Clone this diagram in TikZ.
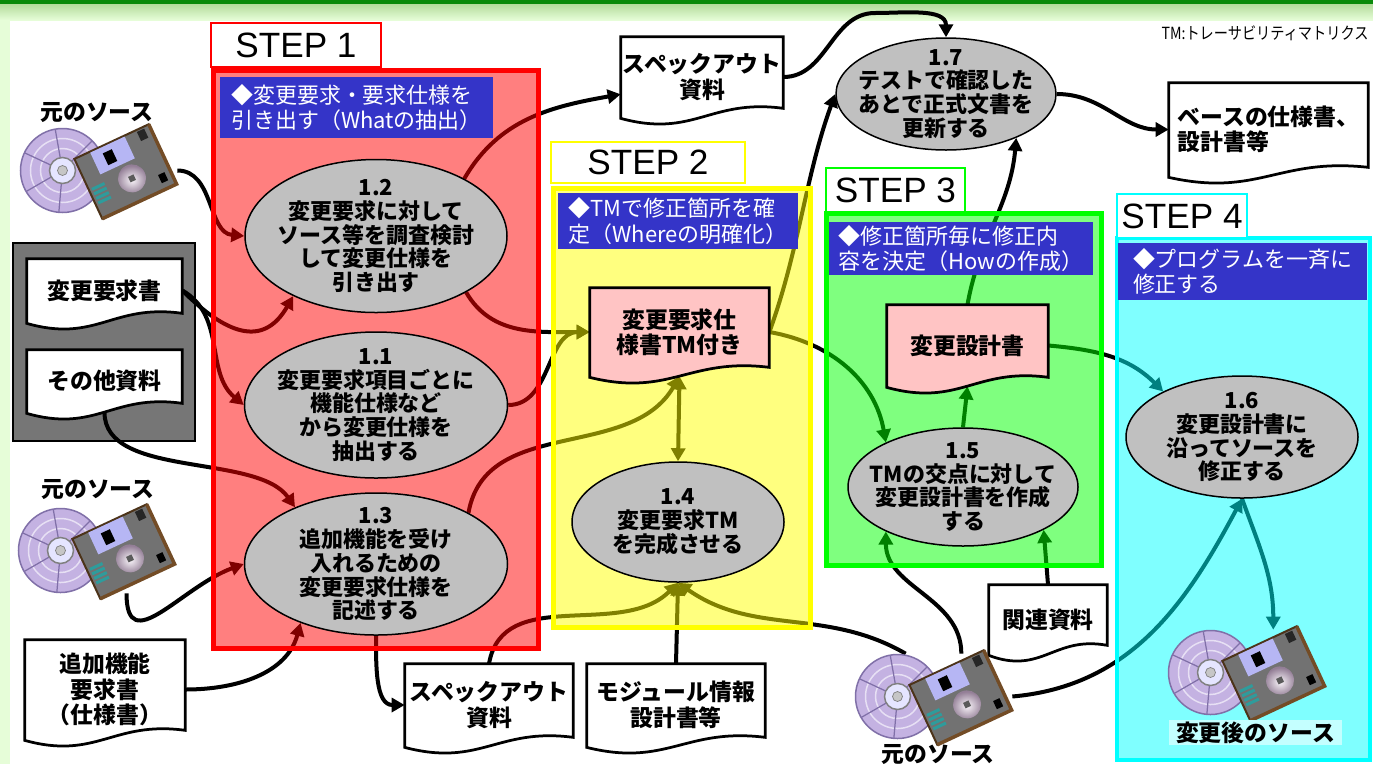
\documentclass[tikz,border=0pt]{standalone}
\usepackage{fontspec}
\setmainfont{Noto Sans CJK JP}
\newfontfamily\stepfont{Liberation Sans}
\usetikzlibrary{shapes.geometric,arrows.meta,calc}

\definecolor{headblue}{HTML}{3434C8}
\definecolor{procgray}{HTML}{C0C0C0}
\definecolor{docpink}{HTML}{FFC4C4}
\definecolor{groupgray}{HTML}{767676}
\definecolor{framegreen}{HTML}{E6FDD8}
\definecolor{bandgreen}{HTML}{B4DC9C}
\definecolor{edgegreen}{HTML}{0A8A0A}
\definecolor{labelcyan}{HTML}{C4FFFF}
\definecolor{cdlilac}{HTML}{C4B2E2}
\definecolor{cdline}{HTML}{8070A8}
\definecolor{floppygray}{HTML}{727272}
\definecolor{shutterblue}{HTML}{B6B6F4}
\definecolor{hubpink}{HTML}{D2B4D6}
\definecolor{stripeteal}{HTML}{2E9C9C}
\definecolor{stepred}{RGB}{255,0,0}
\definecolor{stepyellow}{RGB}{255,255,0}
\definecolor{stepgreen}{RGB}{0,255,0}
\definecolor{stepcyan}{RGB}{0,255,255}

\pgfdeclarelayer{back}
\pgfdeclarelayer{lines}
\pgfdeclarelayer{tint}
\pgfdeclarelayer{docs}
\pgfsetlayers{back,lines,tint,docs,main}

\tikzset{
  >={Triangle[length=2.6mm,width=2.8mm]},
  proc/.style={ellipse, draw, line width=0.3mm, fill=procgray, inner sep=-2.5mm, align=center,
    font=\fontsize{12.5}{13.6}\selectfont\bfseries},
  doc/.style={inner sep=0pt, align=center, font=\fontsize{13}{14.5}\selectfont\bfseries},
  docline/.style={draw=black, line width=0.55mm},
  flow/.style={line width=0.8mm, ->},
  head/.style={fill=headblue, text=white, align=left, inner sep=0pt,
    font=\fontsize{12.5}{14.5}\selectfont},
  steplabel/.style={draw=#1, line width=0.35mm, fill=white, inner sep=0pt,
    font=\stepfont\fontsize{20}{20}\selectfont},
  stepbox/.style={draw=#1, fill=#1, fill opacity=0.5, line width=1mm},
  iconbox/.style={inner sep=0pt, minimum width=31.4mm, minimum height=17mm},
  srcname/.style={font=\fontsize{13}{13}\selectfont\bfseries, inner sep=1pt},
  disk/.pic={
    \filldraw[fill=cdlilac, draw=cdline, line width=0.3mm] (-36,0) circle (42);
    \draw[white!60!cdlilac, line width=0.3mm] (-36,0) circle (22) (-36,0) circle (32);
    \foreach \a in {95,150,205,260,315}
      \draw[cdline, line width=0.25mm] (-36,0) ++(\a:13) -- ++(\a:29);
    \filldraw[fill=white!90!blue, draw=gray, line width=0.3mm] (-36,0) circle (13);
    \filldraw[fill=gray!45, draw=gray] (-36,0) circle (5);
    \begin{scope}[shift={(27,1)}, rotate=25]
      \filldraw[fill=floppygray, draw=black!60!brown, line width=0.4mm] (-41,-33) rectangle (41,33);
      \draw[brown!60!black, line width=0.7mm] (-41,33) -- (41,33) -- (41,-33);
      \fill[shutterblue] (-24,-32) rectangle (14,-8);
      \fill[black] (-13,-26) rectangle (-3,-13);
      \fill[black!85] (27,-31) rectangle (35,-21);
      \fill[black] (28,17) rectangle (35,26);
      \shade[inner color=white!85!hubpink, outer color=hubpink!70!black] (3,9) circle (14);
      \fill[floppygray!80!black] (0,6) rectangle (6,12);
      \foreach \s in {2,7,12,17}
        \draw[stripeteal, line width=0.6mm] (-38,\s) -- (-24,\s);
    \end{scope}
  }
}

\newcommand{\docshape}[2]{%
  \filldraw[docline, fill=#2] (#1.north west) -- (#1.north east) -- ($(#1.south east)+(0,-9)$)
    .. controls ($(#1.south east)!0.45!(#1.south west)+(0,-19)$)
    and ($(#1.south west)!0.45!(#1.south east)+(0,21)$) .. ($(#1.south west)+(0,1)$) -- cycle;}

\begin{document}
\begin{tikzpicture}[x=0.2mm,y=-0.2mm]
\useasboundingbox (0,0) rectangle (1373,764);

% processes
\node[proc, minimum width=52.4mm, minimum height=30.6mm] (p12) at (376,236) {1.2\\変更要求に対して\\ソース等を調査検討\\して変更仕様を\\引き出す};
\node[proc, minimum width=52.6mm, minimum height=29.2mm] (p11) at (376,405) {1.1\\変更要求項目ごとに\\機能仕様など\\から変更仕様を\\抽出する};
\node[proc, minimum width=52.6mm, minimum height=28.4mm] (p13) at (376,564) {1.3\\追加機能を受け\\入れるための\\変更要求仕様を\\記述する};
\node[proc, minimum width=42.4mm, minimum height=24mm] (p14) at (678,522) {1.4\\変更要求TM\\を完成させる};
\node[proc, minimum width=46mm, minimum height=23.6mm] (p15) at (963,487) {1.5\\TMの交点に対して\\変更設計書を作成\\する};
\node[proc, minimum width=46.4mm, minimum height=24.4mm] (p16) at (1242,437) {1.6\\変更設計書に\\沿ってソースを\\修正する};
\node[proc, minimum width=44mm, minimum height=22.4mm] (p17) at (946,94) {1.7\\テストで確認した\\あとで正式文書を\\更新する};

% documents
\node[doc, minimum width=32.4mm, minimum height=16mm] (specOutA) at (702,77) {スペックアウト\\資料};
\node[doc, align=left, minimum width=39.8mm, minimum height=18.6mm] (baseDoc) at (1268.5,129.5) {ベースの仕様書、\\設計書等};
\node[doc, minimum width=31mm, minimum height=12.6mm] (reqDoc) at (104.5,290.5) {変更要求書};
\node[doc, minimum width=31mm, minimum height=12.4mm] (otherDoc) at (104.5,381) {その他資料};
\node[doc, minimum width=32mm, minimum height=19.8mm] (addDoc) at (105,689.5) {追加機能\\要求書\\（仕様書）};
\node[doc, minimum width=33.6mm, minimum height=16.4mm] (specOutB) at (489,705) {スペックアウト\\資料};
\node[doc, minimum width=35.6mm, minimum height=16.4mm] (moduleDoc) at (676,705) {モジュール情報\\設計書等};
\node[doc, minimum width=35.8mm, minimum height=17.6mm] (tmDoc) at (679.5,332) {変更要求仕\\様書TM付き};
\node[doc, minimum width=32.2mm, minimum height=16.2mm] (designDoc) at (967.5,345.5) {変更設計書};
\node[doc, minimum width=23.6mm, minimum height=13.8mm] (relDoc) at (1048,619.5) {関連資料};

% sources
\node[iconbox] (srcA) at (98.5,170.5) {};
\node[iconbox] (srcB) at (96.5,550.5) {};
\node[iconbox] (srcC) at (933.5,696.5) {};
\node[iconbox] (srcNew) at (1246.5,672.5) {};
\pic at (srcA) {disk};
\pic at (srcB) {disk};
\pic at (srcC) {disk};
\pic at (srcNew) {disk};
\node[srcname] (srcAname) at (97,113) {元のソース};
\node[srcname] (srcBname) at (98,490) {元のソース};
\node[srcname] (srcCname) at (938,755) {元のソース};
\node[srcname, fill=labelcyan, minimum width=34.6mm, minimum height=5mm] (srcNewName) at (1255.5,732.5) {変更後のソース};

% steps
\node[steplabel=stepred, minimum width=34mm, minimum height=8.8mm] (stepA) at (296,45) {STEP 1};
\node[steplabel=stepyellow, minimum width=38.8mm, minimum height=8.2mm] (stepB) at (648,162.5) {STEP 2};
\node[steplabel=stepgreen, minimum width=27.8mm, minimum height=8.8mm] (stepC) at (895.5,190) {STEP 3};
\node[steplabel=stepcyan, minimum width=26mm, minimum height=8.8mm] (stepD) at (1182,216) {STEP 4};
\node[head, minimum width=54.6mm, minimum height=12.2mm] (headA) at (356.5,107.5) {◆変更要求・要求仕様を\\引き出す（Whatの抽出）};
\node[head, minimum width=48mm, minimum height=11.2mm] (headB) at (678,221) {◆TMで修正箇所を確\\定（Whereの明確化）};
\node[head, minimum width=52.8mm, minimum height=10.6mm] (headC) at (961,248.5) {◆修正箇所毎に修正内\\容を決定（Howの作成）};
\node[head, minimum width=49.8mm, minimum height=11.4mm] (headD) at (1242.5,271.5) {◆プログラムを一斉に\\修正する};

\node[font=\fontsize{9.5}{9.5}\selectfont] (tmNote) at (1265,33) {\scalebox{0.85}[1]{TM:トレーサビリティマトリクス}};

\begin{pgfonlayer}{docs}
  \docshape{specOutA}{white}
  \docshape{baseDoc}{white}
  \docshape{reqDoc}{white}
  \docshape{otherDoc}{white}
  \docshape{addDoc}{white}
  \docshape{specOutB}{white}
  \docshape{moduleDoc}{white}
  \docshape{tmDoc}{docpink}
  \docshape{designDoc}{docpink}
  \docshape{relDoc}{white}
\end{pgfonlayer}

\begin{pgfonlayer}{tint}
  \draw[stepbox=stepred] (213,70) rectangle (538,648);
  \draw[stepbox=stepyellow] (553,188) rectangle (810,627);
  \draw[stepbox=stepgreen] (826,213) rectangle (1101,565);
  \draw[stepbox=stepcyan, line width=0.7mm] (1117,238) rectangle (1370,760);
\end{pgfonlayer}

\begin{pgfonlayer}{lines}
  \draw[flow] (srcA.east) to[out=0,in=175] (p12.west);
  \draw[flow] (reqDoc.east) to[out=-45,in=240,looseness=1.4] (p12.216);
  \draw[flow] (reqDoc.east) to[out=-30,in=140] (p11.west);
  \draw[flow] (otherDoc.south) to[out=270,in=125,looseness=0.8] (p13.145);
  \draw[flow] (srcB.-55) to[out=270,in=200,looseness=1.4] (p13.west);
  \draw[flow] (addDoc.east) to[out=0,in=255] (p13.218);
  \draw[flow] (p13.south) to[out=270,in=180] (specOutB.west);
  \draw[flow] (specOutB.north) to[out=80,in=225] (p14.south);
  \draw[flow] (moduleDoc.north) -- (p14.south);
  \draw[flow] (srcC.123) to[out=150,in=325] (p14.south);
  \draw[flow] (srcC.57) to[out=90,in=270] (p15.210);
  \draw[flow] (srcC.east) to[out=5,in=242] (p16.south);
  \draw[flow] (p16.south) to[out=290,in=90] (srcNew.58);
  \draw[flow] (relDoc.north) -- (p15.-28);
  \draw[flow] (p15.north) -- (designDoc.south);
  \draw[flow] (designDoc.north) to[out=80,in=265] (p17.-32);
  \draw[flow] (designDoc.east) to[out=-5,in=135] (p16.150);
  \draw[flow] (tmDoc.east) to[out=-10,in=100] (p15.150);
  \draw[flow] (tmDoc.east) to[out=70,in=250,looseness=0.9] (p17.west);
  \draw[flow] (p12.33) to[out=60,in=190] (specOutA.192);
  \draw[flow] (specOutA.east) to[out=0,in=180] (875,13) to[out=0,in=90] (p17.north);
  \draw[flow] (p17.east) to[out=0,in=180] (baseDoc.west);
  \draw[flow] (p12.-32) to[out=-60,in=180] (tmDoc.west);
  \draw[flow] (p11.east) to[out=0,in=180] (tmDoc.west);
  \draw[flow] (p13.29) to[out=80,in=240] (tmDoc.south);
  \draw[line width=0.8mm, <->] (p14.north) -- (tmDoc.south);
\end{pgfonlayer}

\begin{pgfonlayer}{back}
  \fill[framegreen] (0,0) rectangle (1373,764);
  \fill[white] (10,20) rectangle (1373,764);
  \fill[edgegreen] (0,0) rectangle (1373,4);
  \shade[top color=bandgreen, bottom color=framegreen] (0,4) rectangle (1373,20);
  \filldraw[fill=groupgray, draw=black, line width=0.4mm] (13,243) rectangle (195,441);
\end{pgfonlayer}
\end{tikzpicture}
\end{document}
